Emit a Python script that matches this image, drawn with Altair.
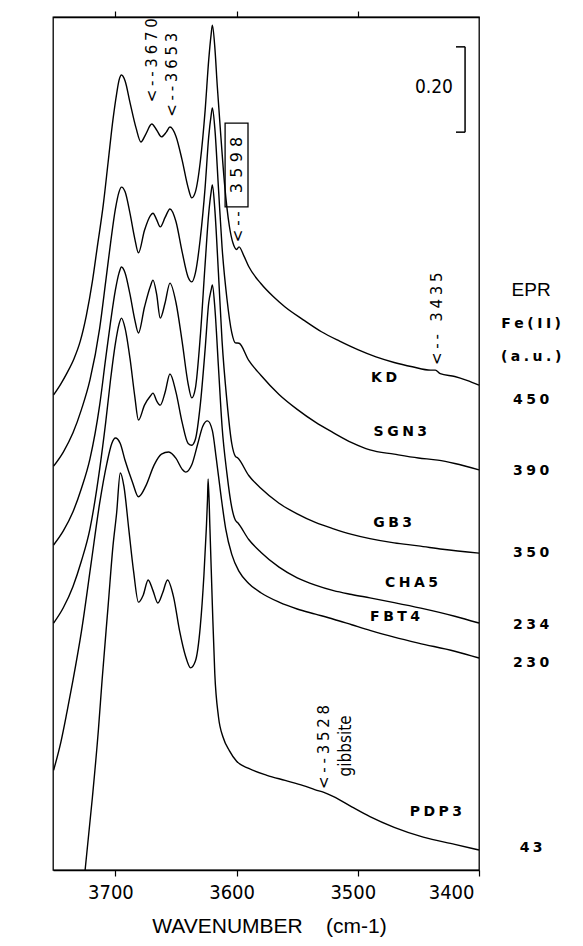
import altair as alt
import pandas as pd

# ---- spectra: wavenumber (cm-1) and absorbance (a.u., offset as in the figure) ----
kd_w = [3751, 3745, 3740, 3734, 3729, 3724, 3719, 3715, 3710, 3706, 3702, 3699, 3697, 3695, 3692, 3688, 3683, 3679, 3675, 3670,
        3666, 3662, 3658, 3655, 3650, 3645, 3640, 3637, 3634, 3630, 3626, 3623, 3621, 3620, 3618, 3616, 3613, 3610, 3606, 3603,
        3600, 3598, 3594, 3590, 3580, 3570, 3560, 3545, 3530, 3515, 3500, 3485, 3470, 3455, 3440, 3436, 3432, 3420, 3410, 3400]
kd_a = [1.114, 1.14, 1.165, 1.20, 1.24, 1.30, 1.38, 1.46, 1.56, 1.66, 1.76, 1.82, 1.852, 1.864, 1.85, 1.80, 1.74, 1.707, 1.725, 1.749,
        1.735, 1.719, 1.73, 1.742, 1.72, 1.665, 1.60, 1.576, 1.59, 1.66, 1.78, 1.90, 1.96, 1.981, 1.93, 1.84, 1.72, 1.61, 1.51, 1.47,
        1.455, 1.461, 1.44, 1.415, 1.375, 1.345, 1.32, 1.29, 1.262, 1.24, 1.22, 1.203, 1.19, 1.18, 1.172, 1.172, 1.164, 1.157, 1.148, 1.137]

sgn3_w = [3751, 3743, 3735, 3728, 3721, 3713, 3708, 3704, 3700, 3697, 3695, 3692, 3688, 3684, 3681, 3676, 3671, 3669, 3666, 3663,
          3659, 3655, 3650, 3645, 3640, 3637, 3634, 3630, 3626, 3623, 3621, 3620, 3618, 3615, 3612, 3608, 3604, 3601, 3598, 3590,
          3580, 3565, 3550, 3535, 3520, 3505, 3490, 3470, 3450, 3434, 3420, 3400]
sgn3_a = [0.947, 0.98, 1.025, 1.08, 1.149, 1.27, 1.38, 1.47, 1.55, 1.59, 1.601, 1.59, 1.54, 1.48, 1.447, 1.50, 1.535, 1.540, 1.525, 1.508,
          1.53, 1.550, 1.52, 1.45, 1.39, 1.379, 1.40, 1.48, 1.60, 1.72, 1.77, 1.787, 1.74, 1.60, 1.46, 1.34, 1.26, 1.236, 1.235, 1.195,
          1.16, 1.115, 1.08, 1.05, 1.025, 1.002, 0.985, 0.975, 0.966, 0.961, 0.953, 0.938]

gb3_w = [3751, 3743, 3735, 3728, 3721, 3713, 3708, 3704, 3700, 3697, 3695, 3692, 3688, 3684, 3681, 3676, 3671, 3669, 3666, 3663,
         3659, 3655, 3650, 3645, 3640, 3637, 3634, 3630, 3626, 3623, 3621, 3620, 3618, 3615, 3612, 3608, 3604, 3601, 3599, 3590,
         3580, 3565, 3550, 3535, 3520, 3505, 3490, 3470, 3450, 3430, 3400]
gb3_a = [0.762, 0.795, 0.84, 0.895, 0.964, 1.09, 1.20, 1.285, 1.36, 1.40, 1.414, 1.40, 1.35, 1.29, 1.259, 1.32, 1.37, 1.383, 1.35, 1.294,
         1.33, 1.376, 1.33, 1.24, 1.14, 1.107, 1.13, 1.25, 1.42, 1.54, 1.59, 1.606, 1.55, 1.40, 1.24, 1.10, 1.00, 0.97, 0.966, 0.925,
         0.895, 0.86, 0.835, 0.815, 0.80, 0.787, 0.777, 0.767, 0.76, 0.752, 0.743]

cha5_w = [3751, 3743, 3735, 3728, 3721, 3713, 3708, 3704, 3700, 3697, 3695, 3692, 3688, 3684, 3681, 3676, 3671, 3669, 3666, 3663,
          3659, 3655, 3650, 3645, 3640, 3637, 3634, 3630, 3626, 3623, 3621, 3620, 3618, 3615, 3612, 3608, 3604, 3601, 3599, 3590,
          3580, 3565, 3550, 3535, 3520, 3505, 3490, 3470, 3448, 3420, 3400]
cha5_a = [0.579, 0.615, 0.665, 0.725, 0.80, 0.94, 1.05, 1.15, 1.235, 1.28, 1.294, 1.27, 1.20, 1.11, 1.055, 1.09, 1.112, 1.118, 1.10, 1.090,
          1.12, 1.163, 1.12, 1.05, 1.00, 0.996, 1.01, 1.09, 1.22, 1.33, 1.36, 1.372, 1.32, 1.18, 1.04, 0.93, 0.85, 0.82, 0.814, 0.775,
          0.745, 0.71, 0.685, 0.668, 0.655, 0.646, 0.638, 0.627, 0.614, 0.595, 0.579]

fbt4_w = [3751, 3745, 3740, 3735, 3728, 3720, 3713, 3707, 3703, 3700, 3696, 3692, 3686, 3681, 3675, 3668, 3662, 3656, 3650, 3645,
          3642, 3637, 3632, 3628, 3624, 3620, 3617, 3613, 3609, 3604, 3598, 3590, 3580, 3565, 3550, 3535, 3520, 3505, 3490, 3470,
          3450, 3420, 3400]
fbt4_a = [0.234, 0.30, 0.37, 0.445, 0.56, 0.72, 0.86, 0.954, 1.00, 1.013, 1.00, 0.96, 0.91, 0.875, 0.90, 0.95, 0.975, 0.980, 0.965, 0.94,
          0.933, 0.95, 1.00, 1.04, 1.053, 1.03, 0.97, 0.88, 0.80, 0.74, 0.70, 0.672, 0.65, 0.628, 0.612, 0.60, 0.588, 0.575, 0.562, 0.546,
          0.532, 0.513, 0.497]

pdp3_w = [3725, 3719, 3714, 3711, 3706, 3702, 3699, 3696, 3693, 3689, 3685, 3681, 3677, 3673, 3669, 3665, 3661, 3657, 3652, 3647,
          3642, 3638, 3634, 3630, 3627, 3625, 3624, 3623.5, 3622, 3620, 3618, 3615, 3611, 3606, 3600, 3590, 3575, 3560, 3545, 3535,
          3528, 3520, 3505, 3490, 3470, 3446, 3420, 3400]
pdp3_a = [0.0, 0.17, 0.33, 0.445, 0.62, 0.76, 0.837, 0.931, 0.90, 0.80, 0.70, 0.628, 0.645, 0.68, 0.655, 0.626, 0.65, 0.68, 0.64, 0.56,
          0.50, 0.474, 0.49, 0.57, 0.69, 0.80, 0.87, 0.917, 0.80, 0.62, 0.46, 0.36, 0.31, 0.28, 0.255, 0.238, 0.222, 0.21, 0.198, 0.188,
          0.182, 0.172, 0.148, 0.125, 0.10, 0.077, 0.06, 0.047]

sample_names = ["KD", "SGN3", "GB3", "CHA5", "FBT4", "PDP3"]
sample_w = [kd_w, sgn3_w, gb3_w, cha5_w, fbt4_w, pdp3_w]
sample_a = [kd_a, sgn3_a, gb3_a, cha5_a, fbt4_a, pdp3_a]

# sample labels (right end position)
label_w = [3467.6, 3442.8, 3455.2, 3433.8, 3448.6, 3414.0]
label_a = [1.154, 1.027, 0.814, 0.673, 0.593, 0.136]

# EPR Fe(II) column
epr_values = ["450", "390", "350", "234", "230", "43"]
epr_a = [1.102, 0.935, 0.743, 0.574, 0.485, 0.052]
epr_w = 3357
epr_head = ["Fe(II)", "(a.u.)"]
epr_head_a = [1.28, 1.203]

# peak marks (arrow tip positions)
peak_text = ["<--3670", "<--3653", "<--", "<-- 3435", "<--3528"]
peak_w = [3670, 3653, 3598.5, 3435, 3528]
peak_a = [1.80, 1.766, 1.472, 1.184, 0.19]

# 0.20 absorbance scale bar
bar_w = [3411.5, 3419.0, 3419.0]
bar_a = [1.73, 1.93, 1.73]
bar_w2 = [3411.5, 3411.5, 3411.5]
bar_a2 = [1.93, 1.93, 1.73]


def spaced(s, sep="\u2005"):
    return sep.join(list(s))


rows = []
for n, ws, aa in zip(sample_names, sample_w, sample_a):
    for w, a in zip(ws, aa):
        rows.append({"series": n, "w": w, "a": a})
spec = pd.DataFrame(rows)

X = alt.Scale(domain=[3751.5, 3400], nice=False, zero=False)
Y = alt.Scale(domain=[0, 2.0], nice=False, zero=False)

cond_font = "Liberation Sans Narrow, DejaVu Sans Condensed, sans-serif"
wide_font = "DejaVu Sans"
NB = "\u00a0"

lines = alt.Chart(spec).mark_line(color="black", strokeWidth=1.4, interpolate="monotone").encode(
    x=alt.X("w:Q", scale=X, axis=alt.Axis(
        values=[3700, 3600, 3500, 3400], format="d", grid=False,
        domainColor="black", domainWidth=1.3, tickColor="black", tickSize=6, tickWidth=1.2,
        labelFont=cond_font, labelFontSize=20, labelColor="black", labelOffset=-5, labelPadding=6,
        title="WAVENUMBER" + NB * 4 + "(cm-1)", titleFont="Liberation Sans", titleFontSize=21,
        titleFontWeight="normal", titleColor="black", titleX=216, titleY=56, titleBaseline="middle")),
    y=alt.Y("a:Q", scale=Y, axis=alt.Axis(
        domain=False, ticks=False, labels=False, grid=False,
        title="ABSORBANCE", titleFont="Liberation Sans", titleFontSize=21, titleFontWeight="normal",
        titleColor="black", titleX=-28, titleY=453, titleBaseline="middle", titleAngle=270)),
    detail="series:N",
)

bars = pd.DataFrame({"w": bar_w, "a": bar_a, "w2": bar_w2, "a2": bar_a2})
bar = alt.Chart(bars).mark_rule(color="black", strokeWidth=1.5).encode(
    x=alt.X("w:Q", scale=X, axis=alt.Axis(orient="top", values=[3700, 3600, 3500], labels=False, title=None,
                                          grid=False, domainColor="black", domainWidth=1.3, tickColor="black",
                                          tickSize=6, tickWidth=1.2)),
    x2="w2:Q",
    y=alt.Y("a:Q", scale=Y, axis=None),
    y2="a2:Q",
)

bar_lab = alt.Chart(pd.DataFrame({"t": ["0.20"], "w": [3421.5], "a": [1.836]})).mark_text(
    font=cond_font, fontSize=19, align="right", baseline="middle", color="black").encode(
    x=alt.X("w:Q", scale=X, axis=None), y=alt.Y("a:Q", scale=Y, axis=None), text="t:N")

lab_df = pd.DataFrame({"t": [spaced(s) for s in sample_names], "w": label_w, "a": label_a})
labels = alt.Chart(lab_df).mark_text(font=wide_font, fontSize=14, fontWeight="bold", align="right",
                                     baseline="middle", color="black").encode(
    x=alt.X("w:Q", scale=X, axis=None), y=alt.Y("a:Q", scale=Y, axis=None), text="t:N")

epr_df = pd.DataFrame({"t": [spaced(s) for s in epr_values + epr_head],
                       "w": [epr_w] * (len(epr_values) + len(epr_head)),
                       "a": epr_a + epr_head_a})
epr = alt.Chart(epr_df).mark_text(font=wide_font, fontSize=14, fontWeight="bold", align="center",
                                  baseline="middle", color="black").encode(
    x=alt.X("w:Q", scale=X, axis=None), y=alt.Y("a:Q", scale=Y, axis=None), text="t:N")

epr_title = alt.Chart(pd.DataFrame({"t": ["EPR"], "w": [epr_w], "a": [1.36]})).mark_text(
    font="Liberation Sans", fontSize=19, align="center", baseline="middle", color="black").encode(
    x=alt.X("w:Q", scale=X, axis=None), y=alt.Y("a:Q", scale=Y, axis=None), text="t:N")

peak_df = pd.DataFrame({"t": [spaced(s) for s in peak_text], "w": peak_w, "a": peak_a})
peaks = alt.Chart(peak_df).mark_text(font=wide_font, fontSize=15, angle=270, align="left",
                                     baseline="middle", color="black").encode(
    x=alt.X("w:Q", scale=X, axis=None), y=alt.Y("a:Q", scale=Y, axis=None), text="t:N")

box_lab = alt.Chart(pd.DataFrame({"t": [spaced("3598", "\u2004")], "w": [3600.0], "a": [1.653]})).mark_text(
    font=wide_font, fontSize=16, angle=270, align="center", baseline="middle", color="black").encode(
    x=alt.X("w:Q", scale=X, axis=None), y=alt.Y("a:Q", scale=Y, axis=None), text="t:N")

box = alt.Chart(pd.DataFrame({"w": [3609.5], "w2": [3590.6], "a": [1.555], "a2": [1.751]})).mark_rect(
    fill=None, stroke="black", strokeWidth=1.3).encode(
    x=alt.X("w:Q", scale=X, axis=None), x2="w2:Q", y=alt.Y("a:Q", scale=Y, axis=None), y2="a2:Q")

gib = alt.Chart(pd.DataFrame({"t": ["gibbsite"], "w": [3509.7], "a": [0.291]})).mark_text(
    font=cond_font, fontSize=17, angle=270, align="center", baseline="middle", color="black").encode(
    x=alt.X("w:Q", scale=X, axis=None), y=alt.Y("a:Q", scale=Y, axis=None), text="t:N")

chart = alt.layer(lines, bar, bar_lab, labels, epr, epr_title, peaks, box_lab, box, gib).resolve_axis(
    x="independent").properties(
    width=426, height=853,
    padding={"left": 45, "top": 9, "right": 96, "bottom": 68},
    autosize=alt.AutoSizeParams(type="none"),
    background="white",
).configure_view(stroke="black", strokeWidth=1.3)

chart.save("out.html", embed_options={"renderer": "svg", "actions": False})
